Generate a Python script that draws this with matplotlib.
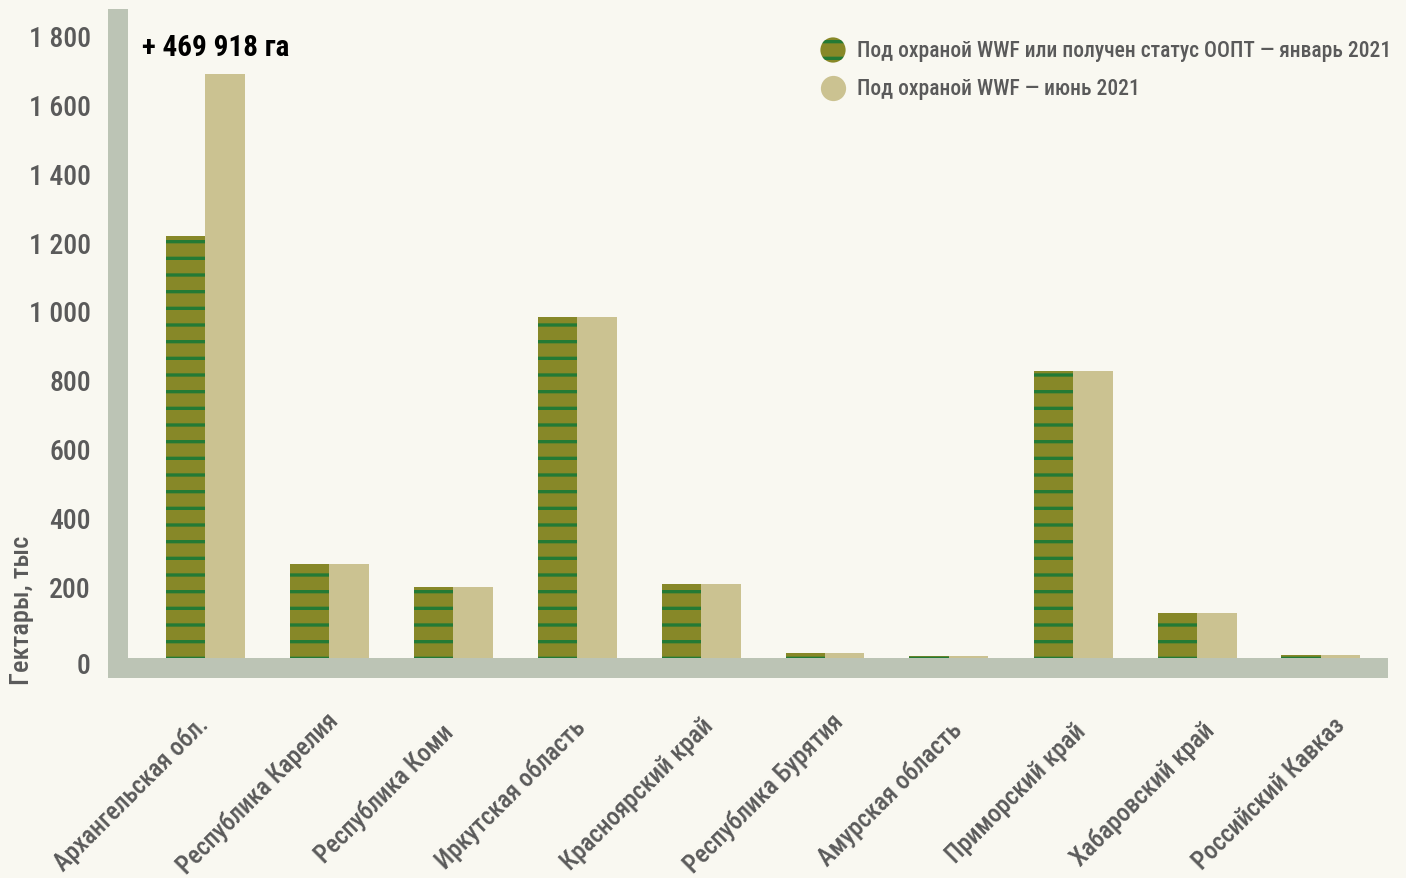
import matplotlib
matplotlib.use("Agg")
import matplotlib.pyplot as plt
import numpy as np

plt.rcParams['font.family'] = ['Roboto Condensed', 'DejaVu Sans']
plt.rcParams['hatch.linewidth'] = 2.4

# data, thousand hectares
regions = ["Архангельская обл.", "Республика Карелия", "Республика Коми",
           "Иркутская область", "Красноярский край", "Республика Бурятия",
           "Амурская область", "Приморский край", "Хабаровский край",
           "Российский Кавказ"]
jan_2021 = [1228, 273, 206, 991, 215, 15, 6, 834, 131, 9]
jun_2021 = [1698, 273, 206, 991, 215, 15, 6, 834, 131, 9]
yticks = [0, 200, 400, 600, 800, 1000, 1200, 1400, 1600, 1800]
legend_labels = ["Под охраной WWF или получен статус ООПТ — январь 2021",
                 "Под охраной WWF — июнь 2021"]
note = "+ 469 918 га"

bg = '#f9f8f1'
olive = '#878828'
stripe = '#237a35'
beige = '#cbc291'
floor = '#bcc4b5'
grey = '#5a5a5a'

fig = plt.figure(figsize=(14.06, 8.79), dpi=100, facecolor=bg)
W, H = 1406, 879
# axes box in pixels: x 108..1388, y 10..679 (top-down)
ax = fig.add_axes([108 / W, (H - 679) / H, 1280 / W, 669 / H])
ax.set_facecolor(bg)
for s in ax.spines.values():
    s.set_visible(False)

px_per_unit = 0.344
ymin = -(679 - 659) / px_per_unit
ymax = (659 - 10) / px_per_unit
xmin = -(205 - 108) / 124
xmax = 9 + (1388 - 1321) / 124
ax.set_xlim(xmin, xmax)
ax.set_ylim(ymin, ymax)

x = np.arange(len(regions))
w = 39.5 / 124

ax.bar(x - w / 2, jan_2021, width=w, color=olive, edgecolor=stripe,
       linewidth=0, hatch='-', zorder=3)
ax.bar(x + w / 2, jun_2021, width=w, color=beige, linewidth=0, zorder=3)

# floor and wall
ax.axhspan(ymin, 0, color=floor, lw=0, zorder=2)
ax.fill_between([xmin, xmin + 20 / 124], 0, ymax, color=floor, lw=0, zorder=2)

ax.set_xticks([])
ax.set_yticks([])

# y tick labels
for v in yticks:
    lab = f"{v:,}".replace(",", " ")
    dy = -23 if v == 0 else 0
    ax.text(-17 / 1280, v + dy, lab, transform=ax.get_yaxis_transform(),
            ha='right', va='center', fontsize=20, fontweight='medium',
            color=grey, clip_on=False)

# x labels, centred under each group
for i, r in enumerate(regions):
    ax.text(i * 1.019 - 0.59, ymin - 115 / px_per_unit, r, rotation=45,
            rotation_mode='anchor', ha='center', va='center',
            fontsize=18, fontweight='medium', color=grey, clip_on=False)

fig.text(22 / W, 1 - 610 / H, "Гектары, тыс", rotation=90, ha='center',
         va='center', fontsize=19, fontweight='medium', color=grey)

# annotation of the difference
ax.text(x[0] - 0.51, jun_2021[0] + 78, note, ha='left', va='center',
        fontsize=21, fontweight='bold', color='black')

# legend
cx = (833 - 108) / 1280
tx = (857 - 108) / 1280
ys = [(679 - 51) / 669, (679 - 89) / 669]
ax.scatter([cx], [ys[0]], s=330, color=olive, edgecolor=stripe, linewidth=0,
           hatch='-', transform=ax.transAxes, clip_on=False, zorder=5)
ax.scatter([cx], [ys[1]], s=330, color=beige, linewidth=0,
           transform=ax.transAxes, clip_on=False, zorder=5)
for yy, lab in zip(ys, legend_labels):
    ax.text(tx, yy, lab, transform=ax.transAxes, ha='left', va='center',
            fontsize=15.5, fontweight='medium', color=grey)

fig.savefig("out.png", dpi=100, facecolor=bg)
